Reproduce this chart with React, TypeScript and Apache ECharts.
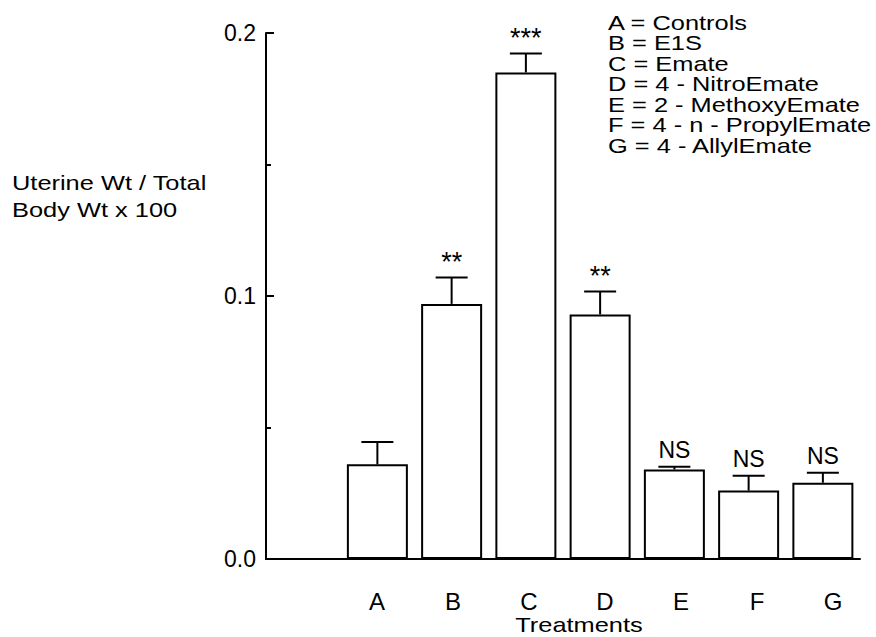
import React, { useEffect, useRef } from "react";
import * as echarts from "echarts";

const categories = ["A", "B", "C", "D", "E", "F", "G"];
const means = [0.036, 0.097, 0.185, 0.093, 0.034, 0.026, 0.029];
const errors = [0.0085, 0.010, 0.0072, 0.0087, 0.0011, 0.0057, 0.0038];
const significance = ["", "**", "***", "**", "NS", "NS", "NS"];
const legendLines = [
  "A = Controls",
  "B = E1S",
  "C = Emate",
  "D = 4 - NitroEmate",
  "E = 2 - MethoxyEmate",
  "F = 4 - n - PropylEmate",
  "G = 4 - AllylEmate",
];
const yAxisTitle = ["Uterine Wt / Total", "Body Wt x 100"];
const xAxisTitle = "Treatments";

const FONT = "'Liberation Sans', Arial, Helvetica, sans-serif";
const INK = "#000";

export default function App() {
  const ref = useRef<HTMLDivElement>(null);

  useEffect(() => {
    if (!ref.current) return;
    const chart = echarts.init(ref.current, null, { renderer: "svg" });
    const axisCats = ["", ...categories];
    const barData = ["-", ...means];
    const errData = means.map((m, i) => [i + 1, m, errors[i]]);

    chart.setOption({
      animation: false,
      backgroundColor: "#fff",
      grid: [
        { left: 266, right: 16, top: 33, bottom: 78 },
        { left: 263, right: 5, top: 33, bottom: 78 },
      ],
      xAxis: [
        {
          type: "category",
          gridIndex: 0,
          data: axisCats,
          boundaryGap: true,
          axisLine: { show: true, lineStyle: { color: INK, width: 2 } },
          axisTick: { show: false },
          axisLabel: { show: false },
          splitLine: { show: false },
        },
        {
          type: "category",
          gridIndex: 1,
          data: axisCats,
          boundaryGap: true,
          axisLine: { show: false },
          axisTick: { show: false },
          axisLabel: {
            show: true,
            interval: 0,
            color: INK,
            fontFamily: FONT,
            fontSize: 24,
            margin: 30,
          },
          splitLine: { show: false },
        },
      ],
      yAxis: [
        {
          type: "value",
          gridIndex: 0,
          min: 0,
          max: 0.2,
          interval: 0.1,
          axisLine: { show: true, lineStyle: { color: INK, width: 2 } },
          axisTick: {
            show: true,
            inside: true,
            length: 8,
            lineStyle: { color: INK, width: 2 },
          },
          minorTick: {
            show: true,
            splitNumber: 2,
            length: 5,
            lineStyle: { color: INK, width: 2 },
          },
          splitLine: { show: false },
          axisLabel: {
            color: INK,
            fontFamily: FONT,
            fontSize: 23,
            margin: 10,
            formatter: (v: number) => v.toFixed(1),
          },
        },
        {
          type: "value",
          gridIndex: 1,
          min: 0,
          max: 0.2,
          show: false,
        },
      ],
      graphic: [
        {
          type: "text",
          x: 12,
          y: 169.5,
          scaleX: 1.21,
          style: {
            text: yAxisTitle.join("\n"),
            fontFamily: FONT,
            fontSize: 21,
            lineHeight: 27,
            fill: INK,
            align: "left",
            verticalAlign: "top",
          },
        },
        {
          type: "text",
          x: 608,
          y: 12,
          scaleX: 1.21,
          style: {
            text: legendLines.join("\n"),
            fontFamily: FONT,
            fontSize: 21,
            lineHeight: 20.6,
            fill: INK,
            align: "left",
            verticalAlign: "top",
          },
        },
        {
          type: "text",
          x: 579,
          y: 625,
          scaleX: 1.21,
          style: {
            text: xAxisTitle,
            fontFamily: FONT,
            fontSize: 21,
            fill: INK,
            align: "center",
            verticalAlign: "middle",
          },
        },
      ],
      series: [
        {
          type: "bar",
          xAxisIndex: 0,
          yAxisIndex: 0,
          data: barData,
          barWidth: 61,
          itemStyle: { color: "#fff", borderColor: INK, borderWidth: 2 },
          silent: true,
        },
        {
          type: "custom",
          xAxisIndex: 0,
          yAxisIndex: 0,
          data: errData,
          silent: true,
          z: 5,
          renderItem: (params: any, api: any) => {
            const x = api.value(0);
            const m = api.value(1);
            const e = api.value(2);
            const top = api.coord([x, m]);
            const cap = api.coord([x, m + e]);
            const label = significance[params.dataIndex];
            const isStar = label.indexOf("*") >= 0;
            const children: any[] = [
              {
                type: "line",
                shape: { x1: top[0], y1: top[1], x2: cap[0], y2: cap[1] },
                style: { stroke: INK, lineWidth: 2 },
              },
              {
                type: "line",
                shape: { x1: cap[0] - 16, y1: cap[1], x2: cap[0] + 16, y2: cap[1] },
                style: { stroke: INK, lineWidth: 2 },
              },
            ];
            if (label) {
              children.push({
                type: "text",
                x: cap[0],
                y: cap[1] - (isStar ? 16 : 17),
                style: {
                  text: label,
                  fontFamily: FONT,
                  fontSize: isStar ? 27 : 23,
                  fill: INK,
                  align: "center",
                  verticalAlign: "middle",
                },
              });
            }
            return { type: "group", children };
          },
        },
      ],
    });

    return () => chart.dispose();
  }, []);

  return (
    <div
      ref={ref}
      style={{ position: "absolute", left: 0, top: 0, width: 876, height: 637 }}
    />
  );
}
